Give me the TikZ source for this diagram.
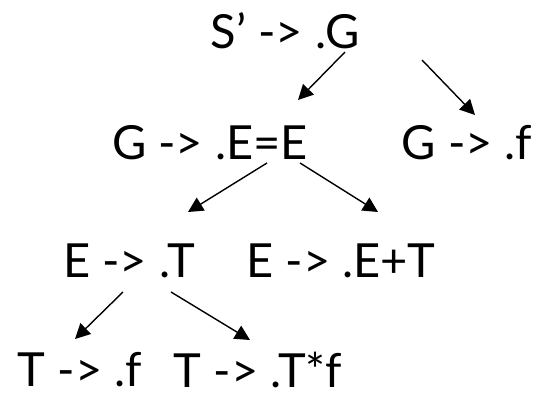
\documentclass[tikz,border=0pt]{standalone}
\usepackage{fontspec}
\setmainfont{Lato}
\usetikzlibrary{arrows.meta, calc}

\begin{document}
\begin{tikzpicture}[
    x=1pt, y=-1pt,
    font=\fontsize{47}{56}\selectfont,
    item/.style={inner sep=0pt, anchor=center},
    arrow/.style={-{Triangle[length=15pt,width=15pt]}, line width=1.4pt},
]
\useasboundingbox (0,0) rectangle (539,398);

% items of the closure
\node[item] (sg)  at (285,31)  {S’ -> .G};
\node[item] (ge)  at (210,143) {G -> .E=E};
\node[item] (gf)  at (467,143) {G -> .f};
\node[item] (et)  at (129,261) {E -> .T};
\node[item] (ee)  at (341,261) {E -> .E+T};
\node[item] (tf)  at (80,370)  {T -> .f};
\node[item] (tt)  at (258,370) {T -> .T*f};

% derivations
\draw[arrow] ($(sg)+(60,21)$) -- ($(ge)+(88,-43)$);
\draw[arrow] ($(sg)+(137,29)$) -- ($(gf)+(8,-28)$);
\draw[arrow] ($(ge)+(57,20)$) -- ($(et)+(59,-49)$);
\draw[arrow] ($(ge)+(90,20)$) -- ($(ee)+(37,-49)$);
\draw[arrow] ($(et)+(-6,31)$) -- ($(tf)+(-5,-31)$);
\draw[arrow] ($(et)+(42,31)$) -- ($(tt)+(-8,-30)$);
\end{tikzpicture}
\end{document}
